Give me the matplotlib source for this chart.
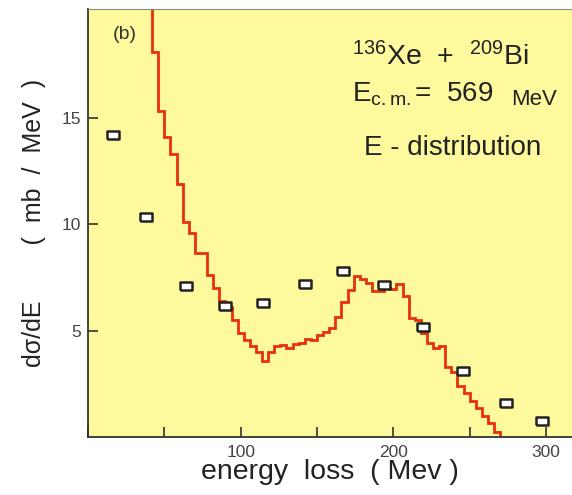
import numpy as np
import matplotlib
matplotlib.use("Agg")
import matplotlib.pyplot as plt
from matplotlib.ticker import MultipleLocator

plt.rcParams["font.family"] = ["Liberation Sans", "DejaVu Sans"]
plt.rcParams["mathtext.fontset"] = "custom"
plt.rcParams["mathtext.rm"] = "Liberation Sans"
plt.rcParams["mathtext.it"] = "Liberation Sans:italic"

# ─── data ────────────────────────────────────────────────────────────────────

# experimental points (energy loss in MeV, dsigma/dE in mb/MeV)
exp_e = [16.6, 38.2, 63.9, 89.5, 114.8, 142.3, 167.1, 193.7, 219.5, 245.4, 273.8, 297.1]
exp_y = [14.2, 10.35, 7.1, 6.15, 6.3, 7.2, 7.8, 7.15, 5.15, 3.1, 1.6, 0.73]

# calculated histogram, 4 MeV bins starting at 34 MeV
bin_lo = 34
bin_w = 4
calc_y = [30.0, 24.0,
          18.1, 15.3, 14.1, 13.3, 11.9, 10.1, 9.6, 8.65, 8.65, 7.6,
          7.0, 6.4, 6.1, 5.5, 4.9, 4.55, 4.25, 4.0, 3.55, 4.0,
          4.25, 4.3, 4.2, 4.35, 4.4, 4.6, 4.55, 4.8, 4.95, 5.1,
          5.65, 6.35, 6.9, 7.55, 7.4, 7.25, 6.85, 6.85, 7.0, 6.95,
          7.2, 6.6, 5.6, 5.5, 4.9, 4.4, 4.2, 4.25, 3.3, 3.05,
          2.4, 2.05, 1.7, 1.35, 1.0, 0.65, 0.25]

edges = bin_lo + bin_w * np.arange(len(calc_y) + 1)

# ─── plot ─────────────────────────────────────────────────────────────────────

fig = plt.figure(figsize=(5.72, 4.95), dpi=100)
ax = fig.add_axes([0.1538, 0.1172, 0.8462, 0.8646])
ax.set_facecolor("#fdf99c")

ax.stairs(calc_y, edges, color="#e8300c", lw=2.0, baseline=None)
ax.plot([edges[-1], edges[-1]], [calc_y[-1], 0], color="#e8300c", lw=2.0)

rect = [(-1.45, -1), (1.45, -1), (1.45, 1), (-1.45, 1), (-1.45, -1)]
ax.plot(exp_e, exp_y, ls="none", marker=rect, ms=8, mfc="white",
        mec="#222222", mew=1.8, zorder=5)

ax.set_xlim(0, 317)
ax.set_ylim(0, 20.1)

ax.xaxis.set_minor_locator(MultipleLocator(50))
ax.set_xticks([100, 200, 300])
ax.set_yticks([5, 10, 15])
ax.tick_params(which="both", direction="in", length=7, width=1.2, colors="#333333",
               labelsize=12.5, labelcolor="#444444", top=False, right=False)
ax.tick_params(axis="y", pad=5)
ax.tick_params(axis="x", pad=6)

for s in ["left", "bottom"]:
    ax.spines[s].set_color("#333333")
    ax.spines[s].set_linewidth(1.3)
ax.spines["top"].set_color("#888888")
ax.spines["right"].set_visible(False)

ax.set_xlabel("energy  loss  ( Mev )", fontsize=20.5, color="#222222", labelpad=-1)
ax.set_ylabel("d\u03c3/dE        (  mb  /  MeV  )", fontsize=18, color="#222222",
              labelpad=11)

ax.text(24, 18.9, "(b)", fontsize=14, color="#333333", ha="center", va="center")
ax.text(173, 17.47, "$^{136}$Xe  +  $^{209}$Bi", fontsize=20.5, color="#222222",
        ha="left", va="baseline")
ax.text(173, 15.74, "E$_{\\mathrm{c.m.}}$=  569", fontsize=20, color="#222222",
        ha="left", va="baseline")
ax.text(277, 15.6, "MeV", fontsize=16, color="#222222", ha="left", va="baseline")
ax.text(239, 13.26, "E - distribution", fontsize=20, color="#222222",
        ha="center", va="baseline")

fig.savefig("out.png", dpi=100)
